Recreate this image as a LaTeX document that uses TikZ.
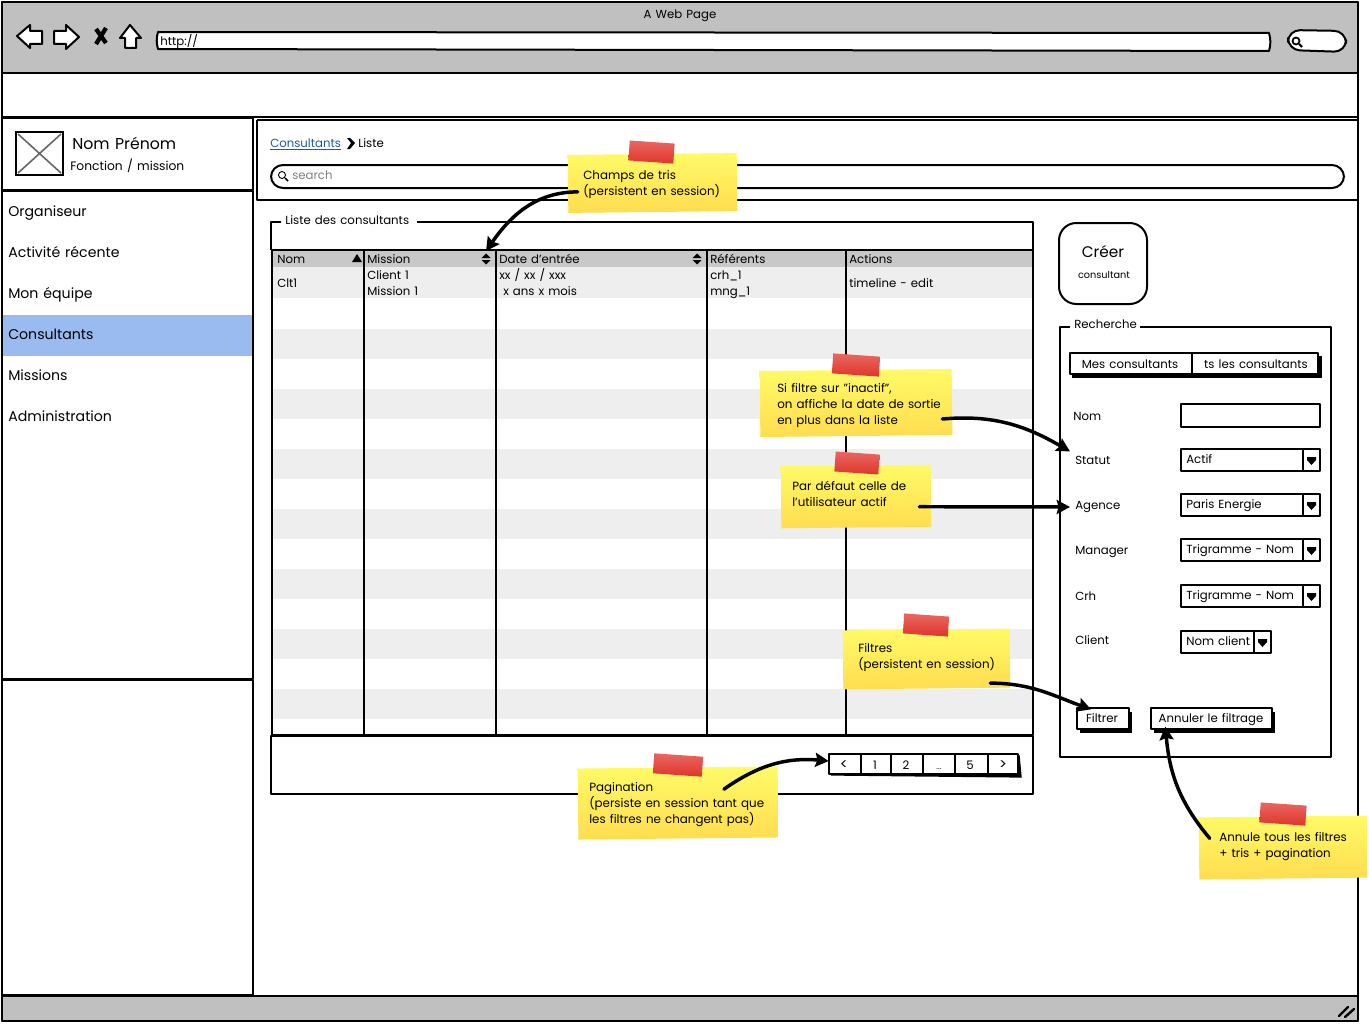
\documentclass[tikz,border=0pt]{standalone}
\usepackage{fontspec}
\setmainfont[WordSpace=1.3]{Poppins}
\usetikzlibrary{arrows.meta,shapes.geometric,calc}
\definecolor{chrome}{HTML}{C0C0C0}
\definecolor{hdr}{HTML}{C8C8C8}
\definecolor{stripe}{HTML}{EEEEEE}
\definecolor{navsel}{HTML}{99BBF0}
\definecolor{linkblue}{HTML}{1F5A9E}
\definecolor{tapered}{HTML}{E0352B}
\definecolor{notetop}{HTML}{FFFA66}
\definecolor{notebot}{HTML}{FFDD50}
\newcommand\fpx[1]{\fontsize{#1pt}{#1pt}\selectfont}
\tikzset{
  ln/.style={draw=black,line width=1.5pt,line join=round},
  thin ln/.style={draw=black,line width=1.1pt,line join=round},
  lbl/.style={inner sep=0pt,anchor=west,font=\fpx{8.8},text height=6.5pt,text depth=0pt},
  lblc/.style={inner sep=0pt,anchor=center,font=\fpx{8.8},text height=6.5pt,text depth=0pt},
  nav/.style={inner sep=0pt,anchor=west,font=\fpx{10.6},text height=8pt,text depth=0pt},
  boxsize/.style 2 args={minimum width=#1*0.75pt,minimum height=#2*0.75pt,inner sep=0pt},
  note/.style={top color=notetop,bottom color=notebot,rotate=0.6},
  tape/.style={top color=tapered!75!white,bottom color=tapered,rotate=-4},
  notetxt/.style={inner sep=0pt,anchor=west,align=left,font=\fontsize{8.9pt}{12pt}\selectfont},
  callout/.style={line width=2.6pt,line cap=round,-{Stealth[length=10pt,width=10.5pt,inset=1.5pt]}},
}
\begin{document}
\begin{tikzpicture}[x=0.75pt,y=-0.75pt]
\useasboundingbox (0,0) rectangle (1369,1024);
% window
\fill[white] (0,0) rectangle (1369,1024);
\path[fill=chrome,ln] (2,2) rectangle (1358,73);
\path[fill=chrome,ln] (2,996) rectangle (1358,1021);
\draw[ln] (2,2) rectangle (1358,1021);
\draw[ln] (2,117) -- (1358,117);
\node[lblc] (title) at (680,14) {A Web Page};
% toolbar icons
\path[fill=white,ln] (17,36) -- (30,25) -- (30,31) -- (42,31) -- (42,44) -- (30,44) -- (30,48) -- cycle;
\path[fill=white,ln] (79,37) -- (66,25) -- (66,31) -- (54,31) -- (54,44) -- (66,44) -- (66,49) -- cycle;
\draw[line width=3.2pt] (96,29) -- (106,43) (106,28) -- (96,44);
\path[fill=white,ln] (130,25) -- (141,38) -- (136,38) -- (136,48) -- (125,48) -- (125,38) -- (120,38) -- cycle;
\path[fill=white,ln] (158,32) -- (1269,33) to[bend left=15] (1269,51) -- (158,49) to[bend left=15] cycle;
\node[lbl] (url) at (160,41) {http://};
\path[fill=white,ln,rounded corners=9pt] (1288,30) -- (1346,31) -- (1346,52) -- (1288,50) -- cycle;
\draw[line width=1.3pt] (1296,41) circle (3.5);
\draw[line width=1.6pt] (1299,44) -- (1302,47);
% status grip
\draw[line width=1.8pt,line cap=round] (1339,1016) -- (1348,1007) (1345,1017) -- (1354,1009);
% sidebar
\draw[ln] (2,118) rectangle (253,190);
\draw[ln] (2,191) rectangle (253,679);
\draw[ln] (2,680) rectangle (253,995);
\draw[draw=black,line width=1.2pt,fill=white] (16,132) rectangle (63,175);
\draw[draw=black!60,line width=1.2pt] (18,134) -- (61,173) (61,134) -- (18,173);
\node[lbl,font=\fpx{11.8},text height=8.5pt] (name) at (72,144) {Nom Prénom};
\node[lbl,font=\fpx{9.2}] (role) at (70,166) {Fonction / mission};
\fill[navsel] (3,315) rectangle (252,356);
\node[nav] (nav1) at (8,211) {Organiseur};
\node[nav] (nav2) at (8,252) {Activité récente};
\node[nav] (nav3) at (8,293) {Mon équipe};
\node[nav] (nav4) at (8,334) {Consultants};
\node[nav] (nav5) at (8,375) {Missions};
\node[nav] (nav6) at (8,416) {Administration};
% breadcrumb panel
\draw[ln] (257,120) -- (1358,120);
\draw[ln] (257,120) -- (257,200) -- (1358,200);
\node[lbl,text=linkblue] (crumb) at (270,143) {\underline{Consultants}};
\path[fill=black] (347,138) -- (350,138) -- (355,143) -- (350,149) -- (347,149) -- (351,143) -- cycle;
\node[lbl] (crumb2) at (358,143) {Liste};
\path[fill=white,ln,rounded corners=9pt] (271,165) -- (1344,165) -- (1344,188) -- (271,188) -- cycle;
\draw[line width=.7pt] (282,175) circle (3.5);
\draw[line width=1.1pt] (285,178) -- (288,181);
\node[lbl,text=black!50] (search) at (292,175) {search};
% list fieldset
\draw[ln] (271,250) -- (271,222) -- (1033,222) -- (1033,250);
\fill[white] (281,212) rectangle (417,230);
\node[lbl] (listlabel) at (285,220) {Liste des consultants};
% table
\fill[hdr] (272,251) rectangle (1033,267);
\fill[stripe] (272,267) rectangle (1033,298);
\foreach \yy in {329,389,449,509,569,629,689} {\fill[stripe] (272,\yy) rectangle (1033,\yy+30);}
\draw[ln] (272,250) rectangle (1033,735);
\foreach \xx in {364,496,707,846} {\draw[thin ln] (\xx,251) -- (\xx,735);}
\node[lbl] (h1) at (277,259) {Nom};
\node[lbl] (h2) at (367,259) {Mission};
\node[lbl] (h3) at (499,259) {Date d'entrée};
\node[lbl] (h4) at (710,259) {Référents};
\node[lbl] (h5) at (849,259) {Actions};
\fill (352,262) -- (362,262) -- (357,254) -- cycle;
\foreach \xx in {486,697} {
  \fill (\xx-4.5,258) -- (\xx+4.5,258) -- (\xx,253.5) -- cycle;
  \fill (\xx-4.5,260) -- (\xx+4.5,260) -- (\xx,264.5) -- cycle;
}
\node[lbl] (c1) at (277,283) {Clt1};
\node[lbl] (c2a) at (367,275) {Client 1};
\node[lbl] (c2b) at (367,291) {Mission 1};
\node[lbl] (c3a) at (499,275) {xx / xx / xxx};
\node[lbl] (c3b) at (503,291) {x ans x mois};
\node[lbl] (c4a) at (710,275) {crh\_1};
\node[lbl] (c4b) at (710,291) {mng\_1};
\node[lbl] (c5) at (849,283) {timeline - edit};
% pagination box
\draw[ln] (271,736) rectangle (1033,794);
\draw[line width=2.4pt] (831,774) -- (1020,776) -- (1018,755);
\path[fill=white,thin ln] (829,754) rectangle (1018,774);
\foreach \xx in {861,891,923,955,988} {\draw[thin ln] (\xx,754) -- (\xx,774);}
\node[lblc,font=\fpx{11}] (p1) at (844,765) {<};
\node[lblc] (p2) at (875,765) {1};
\node[lblc] (p3) at (906,765) {2};
\node[lblc,font=\fpx{6}] (p4) at (939,765) {...};
\node[lblc] (p5) at (970,765) {5};
\node[lblc,font=\fpx{11}] (p6) at (1003,765) {>};
% create button
\path[fill=white,ln,rounded corners=13pt] (1059,223) -- (1147,223) -- (1147,304) -- (1059,304) -- cycle;
\node[lblc,font=\fpx{11.5},text height=8.5pt] (create) at (1103,252) {Créer};
\node[lblc,font=\fpx{7.3},text height=5pt] (create2) at (1104,275) {consultant};
% search fieldset
\draw[ln] (1060,327) rectangle (1331,757);
\fill[white] (1070,316) rectangle (1140,334);
\node[lbl] (seclabel) at (1074,324) {Recherche};
\draw[line width=2.6pt] (1072,376) -- (1320,376) -- (1320,356);
\path[fill=white,thin ln] (1070,353) rectangle (1318,374);
\draw[thin ln] (1192,353) -- (1192,374);
\node[lblc] (tab1) at (1130,364) {Mes consultants};
\node[lblc] (tab2) at (1256,364) {ts les consultants};
\node[lbl] (lnom) at (1073,416) {Nom};
\node[lbl] (lstat) at (1075,460) {Statut};
\node[lbl] (lag) at (1075,505) {Agence};
\node[lbl] (lman) at (1075,550) {Manager};
\node[lbl] (lcrh) at (1075,596) {Crh};
\node[lbl] (lcli) at (1075,640) {Client};
\path[fill=white,ln] (1181,404) rectangle (1320,427);
\foreach \yy/\tx in {449/Actif,494/Paris Energie,539/Trigramme - Nom,585/Trigramme - Nom} {
  \path[fill=white,thin ln] (1181,\yy) rectangle (1320,\yy+22);
  \draw[thin ln] (1303,\yy) -- (1303,\yy+22);
  \fill (1307,\yy+8) -- (1316,\yy+8) -- (1316,\yy+11) -- (1311.5,\yy+16) -- (1307,\yy+11) -- cycle;
  \node[lbl] at (1186,\yy+10) {\tx};
}
\path[fill=white,thin ln] (1181,631) rectangle (1271,653);
\draw[thin ln] (1254,631) -- (1254,653);
\fill (1258,639) -- (1267,639) -- (1267,642) -- (1262.5,647) -- (1258,642) -- cycle;
\node[lbl] (clientv) at (1186,641) {Nom client};
% buttons
\fill (1080,712) rectangle (1132,733);
\path[fill=white,thin ln] (1077,708) rectangle (1129,729);
\node[lblc] (bfilter) at (1102,718) {Filtrer};
\fill (1154,712) rectangle (1275,733);
\path[fill=white,thin ln] (1151,708) rectangle (1272,729);
\node[lblc] (bcancel) at (1211,718) {Annuler le filtrage};
% notes
\node[note,boxsize={169}{58}] (n1) at (652.5,183) {};
\node[tape,boxsize={45}{20}] (t1) at (651.5,152) {};
\node[notetxt] (n1t) at (583,185) {Champs de tris\\(persistent en session)};
\node[note,boxsize={192}{66}] (n2) at (856,403) {};
\node[tape,boxsize={47}{20}] (t2) at (856,365) {};
\node[notetxt] (n2t) at (777,405.5) {Si filtre sur "inactif",\\on affiche la date de sortie\\en plus dans la liste};
\node[note,boxsize={150}{62}] (n3) at (856,496.5) {};
\node[tape,boxsize={44}{20}] (t3) at (857,463) {};
\node[notetxt] (n3t) at (792,493.5) {Par défaut celle de\\l'utilisateur actif};
\node[note,boxsize={167}{59}] (n4) at (926.5,659) {};
\node[tape,boxsize={45}{20}] (t4) at (926,625) {};
\node[notetxt] (n4t) at (858,658) {Filtres\\(persistent en session)};
\node[note,boxsize={200}{71}] (n5) at (678,803) {};
\node[tape,boxsize={49}{20}] (t5) at (678,765) {};
\node[notetxt] (n5t) at (589,804.5) {Pagination\\(persiste en session tant que\\les filtres ne changent pas)};
\node[note,boxsize={168}{62}] (n6) at (1283,847.5) {};
\node[tape,boxsize={46}{20}] (t6) at (1283,814) {};
\node[notetxt] (n6t) at (1219,847) {Annule tous les filtres\\+ tris + pagination};
% connectors
\coordinate (a1e) at ($(h2.west)+(119,-8)$);
\coordinate (a2e) at ($(lstat.north west)+(-5,-4)$);
\coordinate (a3e) at ($(lag.west)+(-5,2)$);
\coordinate (a4e) at ($(bfilter.north)+(-11,-4)$);
\coordinate (a5e) at ($(p1.west)+(-11,-4)$);
\coordinate (a6e) at ($(bcancel.south west)+(7,4)$);
\draw[callout] ($(n1.west)+(10,8)$) to[out=180,in=55] (a1e);
\draw[callout] ($(n2.east)+(-10,17)$) to[out=5,in=150] (a2e);
\draw[callout] ($(n3.east)+(-12,11)$) -- (a3e);
\draw[callout] ($(n4.east)+(-20,25)$) to[out=0,in=160] (a4e);
\draw[callout] ($(n5.north east)+(-54,23)$) to[out=35,in=175] (a5e);
\draw[callout] ($(n6.west)+(11,-10)$) to[out=130,in=-85] (a6e);
\end{tikzpicture}
\end{document}
